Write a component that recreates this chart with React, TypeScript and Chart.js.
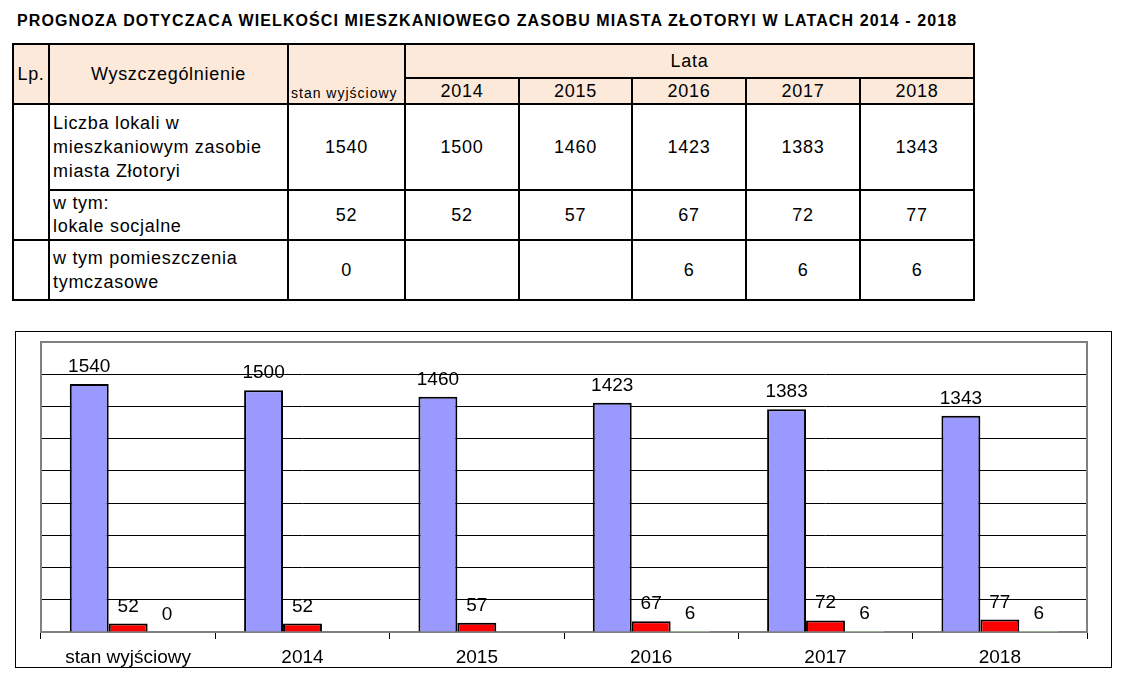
import React, { useEffect, useRef } from "react";
import { Chart, registerables } from "chart.js";

Chart.register(...registerables);

const FONT = '"Liberation Sans", Arial, sans-serif';

const titleText =
  "PROGNOZA DOTYCZACA WIELKOŚCI MIESZKANIOWEGO ZASOBU MIASTA ZŁOTORYI W LATACH 2014 - 2018";

const categories = ["stan wyjściowy", "2014", "2015", "2016", "2017", "2018"];
const yearHeaders = ["2014", "2015", "2016", "2017", "2018"];
const lokaleOgolem = [1540, 1500, 1460, 1423, 1383, 1343];
const lokaleSocjalne = [52, 52, 57, 67, 72, 77];
const pomieszczeniaTymczasowe: (number | null)[] = [0, null, null, 6, 6, 6];
const yMax = 1800;
const yStep = 200;

const rowLabels: string[][] = [
  ["Liczba lokali w", "mieszkaniowym zasobie", "miasta Złotoryi"],
  ["w tym:", "lokale socjalne"],
  ["w tym pomieszczenia", "tymczasowe"],
];

const HEADER_BG = "#FCE9DA";
const B = "2px solid #000";

const valueLabelPlugin = {
  id: "valueLabels",
  afterDatasetsDraw(chart: any) {
    const ctx = chart.ctx;
    ctx.save();
    ctx.font = `19px ${FONT}`;
    ctx.fillStyle = "#000";
    ctx.textAlign = "center";
    ctx.textBaseline = "alphabetic";
    chart.data.datasets.forEach((ds: any, i: number) => {
      const meta = chart.getDatasetMeta(i);
      meta.data.forEach((bar: any, j: number) => {
        const v = ds.data[j];
        if (v === null || v === undefined) return;
        ctx.fillText(String(v), bar.x, bar.y - 12);
      });
    });
    ctx.restore();
  },
};

const plotBorderPlugin = {
  id: "plotBorder",
  beforeDatasetsDraw(chart: any) {
    const { ctx, chartArea } = chart;
    ctx.save();
    ctx.strokeStyle = "#808080";
    ctx.lineWidth = 2;
    ctx.beginPath();
    ctx.moveTo(chartArea.left, chartArea.bottom);
    ctx.lineTo(chartArea.left, chartArea.top);
    ctx.lineTo(chartArea.right, chartArea.top);
    ctx.lineTo(chartArea.right, chartArea.bottom);
    ctx.stroke();
    ctx.restore();
  },
};

function BarChart() {
  const ref = useRef<HTMLCanvasElement | null>(null);
  useEffect(() => {
    if (!ref.current) return;
    const chart = new Chart(ref.current, {
      type: "bar",
      data: {
        labels: categories,
        datasets: [
          {
            label: "Liczba lokali",
            data: lokaleOgolem,
            backgroundColor: "#9999FF",
            borderColor: "#000",
            borderWidth: 2,
          },
          {
            label: "lokale socjalne",
            data: lokaleSocjalne,
            backgroundColor: "#FF0000",
            borderColor: "#000",
            borderWidth: 2,
          },
          {
            label: "pomieszczenia tymczasowe",
            data: pomieszczeniaTymczasowe,
            backgroundColor: "#B8D8B0",
            borderWidth: 0,
          },
        ],
      },
      options: {
        responsive: false,
        animation: false,
        devicePixelRatio: 1,
        layout: { padding: { left: 25, right: 24, top: 10, bottom: 0 } },
        datasets: {
          bar: { categoryPercentage: 0.67, barPercentage: 1 },
        },
        plugins: {
          legend: { display: false },
          tooltip: { enabled: false },
          title: { display: false },
        },
        scales: {
          x: {
            grid: {
              drawOnChartArea: false,
              drawTicks: true,
              tickLength: 7,
              color: "#000",
              lineWidth: 1,
            },
            border: { color: "#808080", width: 2 },
            ticks: {
              color: "#000",
              font: { family: FONT, size: 19 },
              padding: 7,
              maxRotation: 0,
              autoSkip: false,
            },
            afterFit: (scale: any) => {
              scale.height = 35;
            },
          },
          y: {
            min: 0,
            max: yMax,
            ticks: { display: false, stepSize: yStep },
            grid: { color: "#000", lineWidth: 1, drawTicks: false },
            border: { display: false },
            afterFit: (scale: any) => {
              scale.width = 0;
            },
          },
        },
      },
      plugins: [plotBorderPlugin, valueLabelPlugin],
    });
    return () => chart.destroy();
  }, []);
  return (
    <canvas
      ref={ref}
      width={1095}
      height={335}
      style={{ position: "absolute", left: 0, top: 0, width: 1095, height: 335 }}
    />
  );
}

export default function App() {
  const cell: React.CSSProperties = {
    border: B,
    padding: 0,
    fontFamily: FONT,
    fontSize: 18,
    letterSpacing: 0.7,
    color: "#000",
    textAlign: "center",
    verticalAlign: "middle",
    lineHeight: "24px",
    whiteSpace: "nowrap",
  };
  const head: React.CSSProperties = { ...cell, background: HEADER_BG };
  const colWidths = [36, 239, 117, 114, 113, 114, 114, 114];
  const rowHeights = [34, 24, 86, 50, 60];
  const row3Values = pomieszczeniaTymczasowe.map((v) => (v === null ? "" : String(v)));

  return (
    <div
      style={{
        position: "fixed",
        left: 0,
        top: 0,
        width: 1121,
        height: 675,
        background: "#fff",
        overflow: "hidden",
      }}
    >
      <div
        style={{
          position: "absolute",
          left: 17,
          top: 12,
          fontFamily: FONT,
          fontWeight: "bold",
          fontSize: 16,
          letterSpacing: 1.1,
          whiteSpace: "nowrap",
          color: "#000",
        }}
      >
        {titleText}
      </div>

      <table
        style={{
          position: "absolute",
          left: 12,
          top: 43,
          borderCollapse: "collapse",
          tableLayout: "fixed",
          width: colWidths.reduce((a, b) => a + b, 0),
        }}
      >
        <colgroup>
          {colWidths.map((w, i) => (
            <col key={i} style={{ width: w }} />
          ))}
        </colgroup>
        <tbody>
          <tr style={{ height: rowHeights[0] }}>
            <td rowSpan={2} style={head}>Lp.</td>
            <td rowSpan={2} style={head}>Wyszczególnienie</td>
            <td
              rowSpan={2}
              style={{
                ...head,
                fontSize: 14,
                letterSpacing: 1,
                textAlign: "left",
                verticalAlign: "bottom",
                paddingLeft: 2,
                paddingBottom: 1,
                lineHeight: "18px",
              }}
            >
              stan wyjściowy
            </td>
            <td colSpan={5} style={head}>Lata</td>
          </tr>
          <tr style={{ height: rowHeights[1] }}>
            {yearHeaders.map((y) => (
              <td key={y} style={head}>{y}</td>
            ))}
          </tr>
          <tr style={{ height: rowHeights[2] }}>
            <td rowSpan={2} style={cell}></td>
            <td style={{ ...cell, textAlign: "left", paddingLeft: 3 }}>
              {rowLabels[0].map((l, i) => (
                <div key={i}>{l}</div>
              ))}
            </td>
            {lokaleOgolem.map((v, i) => (
              <td key={i} style={cell}>{v}</td>
            ))}
          </tr>
          <tr style={{ height: rowHeights[3] }}>
            <td style={{ ...cell, textAlign: "left", paddingLeft: 3, lineHeight: "23px" }}>
              {rowLabels[1].map((l, i) => (
                <div key={i}>{l}</div>
              ))}
            </td>
            {lokaleSocjalne.map((v, i) => (
              <td key={i} style={cell}>{v}</td>
            ))}
          </tr>
          <tr style={{ height: rowHeights[4] }}>
            <td style={cell}></td>
            <td style={{ ...cell, textAlign: "left", paddingLeft: 3 }}>
              {rowLabels[2].map((l, i) => (
                <div key={i}>{l}</div>
              ))}
            </td>
            {row3Values.map((v, i) => (
              <td key={i} style={cell}>{v}</td>
            ))}
          </tr>
        </tbody>
      </table>

      <div
        style={{
          position: "absolute",
          left: 15,
          top: 331,
          width: 1097,
          height: 337,
          border: "1px solid #000",
          boxSizing: "border-box",
          background: "#fff",
        }}
      >
        <BarChart />
      </div>
    </div>
  );
}
